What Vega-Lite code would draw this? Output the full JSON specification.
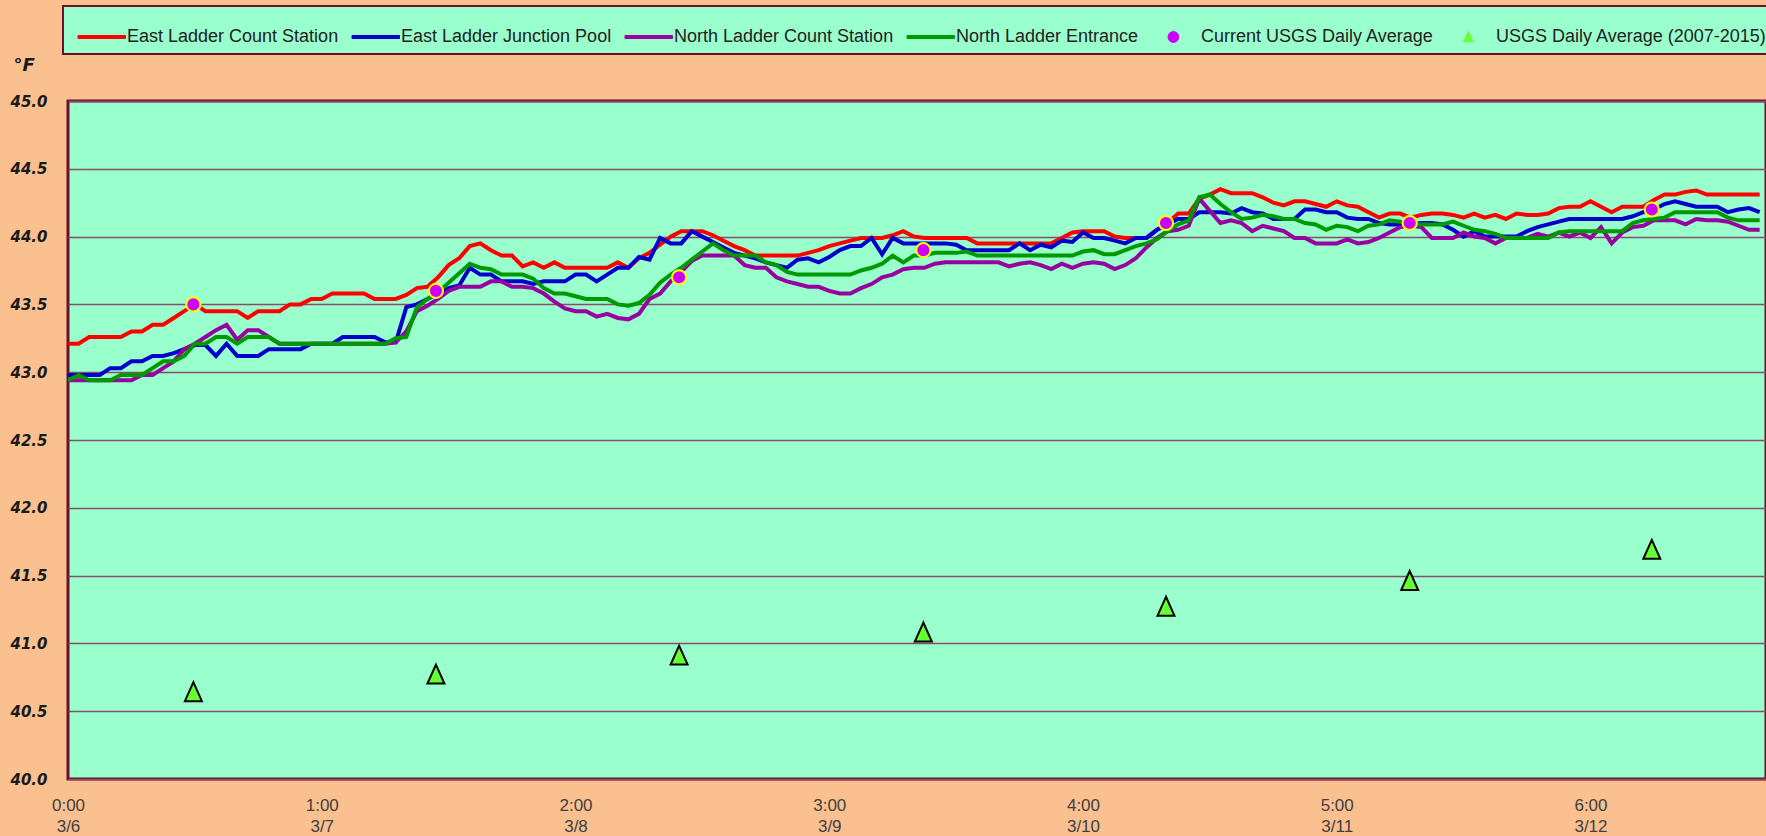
{
  "$schema": "https://vega.github.io/schema/vega-lite/v6.json",
  "width": 1698,
  "height": 678,
  "autosize": {"type": "none"},
  "padding": {"left": 68, "top": 101, "right": 0, "bottom": 57},
  "background": "#FAC090",
  "config": {
    "view": {"fill": "#99FFCC", "stroke": "#6B0F2A", "strokeWidth": 3},
    "font": "Liberation Sans",
    "axis": {"labelFlush": false, "labelOverlap": false}
  },
  "datasets": {
    "hourly": [
      {"h":0,"ECS":43.21,"EJP":42.98,"NCS":42.94,"NLE":42.94},
      {"h":1,"ECS":43.21,"EJP":42.98,"NCS":42.94,"NLE":42.98},
      {"h":2,"ECS":43.26,"EJP":42.98,"NCS":42.94,"NLE":42.94},
      {"h":3,"ECS":43.26,"EJP":42.98,"NCS":42.94,"NLE":42.94},
      {"h":4,"ECS":43.26,"EJP":43.03,"NCS":42.94,"NLE":42.94},
      {"h":5,"ECS":43.26,"EJP":43.03,"NCS":42.94,"NLE":42.98},
      {"h":6,"ECS":43.30,"EJP":43.08,"NCS":42.94,"NLE":42.98},
      {"h":7,"ECS":43.30,"EJP":43.08,"NCS":42.98,"NLE":42.98},
      {"h":8,"ECS":43.35,"EJP":43.12,"NCS":42.98,"NLE":43.03},
      {"h":9,"ECS":43.35,"EJP":43.12,"NCS":43.03,"NLE":43.08},
      {"h":10,"ECS":43.40,"EJP":43.14,"NCS":43.08,"NLE":43.08},
      {"h":11,"ECS":43.45,"EJP":43.17,"NCS":43.17,"NLE":43.12},
      {"h":12,"ECS":43.50,"EJP":43.20,"NCS":43.21,"NLE":43.21},
      {"h":13,"ECS":43.45,"EJP":43.20,"NCS":43.26,"NLE":43.21},
      {"h":14,"ECS":43.45,"EJP":43.12,"NCS":43.31,"NLE":43.26},
      {"h":15,"ECS":43.45,"EJP":43.21,"NCS":43.35,"NLE":43.26},
      {"h":16,"ECS":43.45,"EJP":43.12,"NCS":43.24,"NLE":43.21},
      {"h":17,"ECS":43.40,"EJP":43.12,"NCS":43.31,"NLE":43.26},
      {"h":18,"ECS":43.45,"EJP":43.12,"NCS":43.31,"NLE":43.26},
      {"h":19,"ECS":43.45,"EJP":43.17,"NCS":43.26,"NLE":43.26},
      {"h":20,"ECS":43.45,"EJP":43.17,"NCS":43.21,"NLE":43.21},
      {"h":21,"ECS":43.50,"EJP":43.17,"NCS":43.21,"NLE":43.21},
      {"h":22,"ECS":43.50,"EJP":43.17,"NCS":43.21,"NLE":43.21},
      {"h":23,"ECS":43.54,"EJP":43.21,"NCS":43.21,"NLE":43.21},
      {"h":24,"ECS":43.54,"EJP":43.21,"NCS":43.21,"NLE":43.21},
      {"h":25,"ECS":43.58,"EJP":43.21,"NCS":43.21,"NLE":43.21},
      {"h":26,"ECS":43.58,"EJP":43.26,"NCS":43.21,"NLE":43.21},
      {"h":27,"ECS":43.58,"EJP":43.26,"NCS":43.21,"NLE":43.21},
      {"h":28,"ECS":43.58,"EJP":43.26,"NCS":43.21,"NLE":43.21},
      {"h":29,"ECS":43.54,"EJP":43.26,"NCS":43.21,"NLE":43.21},
      {"h":30,"ECS":43.54,"EJP":43.22,"NCS":43.21,"NLE":43.21},
      {"h":31,"ECS":43.54,"EJP":43.22,"NCS":43.22,"NLE":43.25},
      {"h":32,"ECS":43.57,"EJP":43.48,"NCS":43.30,"NLE":43.26},
      {"h":33,"ECS":43.62,"EJP":43.50,"NCS":43.45,"NLE":43.48},
      {"h":34,"ECS":43.63,"EJP":43.54,"NCS":43.49,"NLE":43.54},
      {"h":35,"ECS":43.70,"EJP":43.58,"NCS":43.54,"NLE":43.59},
      {"h":36,"ECS":43.79,"EJP":43.62,"NCS":43.60,"NLE":43.66},
      {"h":37,"ECS":43.84,"EJP":43.64,"NCS":43.63,"NLE":43.73},
      {"h":38,"ECS":43.93,"EJP":43.77,"NCS":43.63,"NLE":43.80},
      {"h":39,"ECS":43.95,"EJP":43.72,"NCS":43.63,"NLE":43.77},
      {"h":40,"ECS":43.90,"EJP":43.72,"NCS":43.67,"NLE":43.76},
      {"h":41,"ECS":43.86,"EJP":43.67,"NCS":43.67,"NLE":43.72},
      {"h":42,"ECS":43.86,"EJP":43.67,"NCS":43.63,"NLE":43.72},
      {"h":43,"ECS":43.78,"EJP":43.67,"NCS":43.63,"NLE":43.72},
      {"h":44,"ECS":43.81,"EJP":43.65,"NCS":43.62,"NLE":43.69},
      {"h":45,"ECS":43.77,"EJP":43.67,"NCS":43.58,"NLE":43.62},
      {"h":46,"ECS":43.81,"EJP":43.67,"NCS":43.52,"NLE":43.58},
      {"h":47,"ECS":43.77,"EJP":43.67,"NCS":43.47,"NLE":43.58},
      {"h":48,"ECS":43.77,"EJP":43.72,"NCS":43.45,"NLE":43.56},
      {"h":49,"ECS":43.77,"EJP":43.72,"NCS":43.45,"NLE":43.54},
      {"h":50,"ECS":43.77,"EJP":43.67,"NCS":43.41,"NLE":43.54},
      {"h":51,"ECS":43.77,"EJP":43.72,"NCS":43.43,"NLE":43.54},
      {"h":52,"ECS":43.81,"EJP":43.77,"NCS":43.40,"NLE":43.50},
      {"h":53,"ECS":43.77,"EJP":43.77,"NCS":43.39,"NLE":43.49},
      {"h":54,"ECS":43.84,"EJP":43.85,"NCS":43.43,"NLE":43.51},
      {"h":55,"ECS":43.88,"EJP":43.83,"NCS":43.54,"NLE":43.57},
      {"h":56,"ECS":43.94,"EJP":43.99,"NCS":43.58,"NLE":43.66},
      {"h":57,"ECS":44.00,"EJP":43.95,"NCS":43.67,"NLE":43.72},
      {"h":58,"ECS":44.04,"EJP":43.95,"NCS":43.74,"NLE":43.77},
      {"h":59,"ECS":44.04,"EJP":44.04,"NCS":43.82,"NLE":43.83},
      {"h":60,"ECS":44.04,"EJP":44.00,"NCS":43.86,"NLE":43.89},
      {"h":61,"ECS":44.01,"EJP":43.96,"NCS":43.86,"NLE":43.95},
      {"h":62,"ECS":43.97,"EJP":43.92,"NCS":43.86,"NLE":43.90},
      {"h":63,"ECS":43.93,"EJP":43.88,"NCS":43.86,"NLE":43.86},
      {"h":64,"ECS":43.90,"EJP":43.86,"NCS":43.79,"NLE":43.86},
      {"h":65,"ECS":43.86,"EJP":43.84,"NCS":43.77,"NLE":43.86},
      {"h":66,"ECS":43.86,"EJP":43.81,"NCS":43.77,"NLE":43.81},
      {"h":67,"ECS":43.86,"EJP":43.79,"NCS":43.70,"NLE":43.79},
      {"h":68,"ECS":43.86,"EJP":43.77,"NCS":43.67,"NLE":43.74},
      {"h":69,"ECS":43.86,"EJP":43.83,"NCS":43.65,"NLE":43.72},
      {"h":70,"ECS":43.88,"EJP":43.84,"NCS":43.63,"NLE":43.72},
      {"h":71,"ECS":43.90,"EJP":43.81,"NCS":43.63,"NLE":43.72},
      {"h":72,"ECS":43.93,"EJP":43.85,"NCS":43.60,"NLE":43.72},
      {"h":73,"ECS":43.95,"EJP":43.90,"NCS":43.58,"NLE":43.72},
      {"h":74,"ECS":43.97,"EJP":43.93,"NCS":43.58,"NLE":43.72},
      {"h":75,"ECS":43.99,"EJP":43.93,"NCS":43.62,"NLE":43.75},
      {"h":76,"ECS":43.99,"EJP":43.99,"NCS":43.65,"NLE":43.77},
      {"h":77,"ECS":43.99,"EJP":43.87,"NCS":43.70,"NLE":43.80},
      {"h":78,"ECS":44.01,"EJP":43.99,"NCS":43.72,"NLE":43.86},
      {"h":79,"ECS":44.04,"EJP":43.95,"NCS":43.76,"NLE":43.81},
      {"h":80,"ECS":44.00,"EJP":43.95,"NCS":43.77,"NLE":43.86},
      {"h":81,"ECS":43.99,"EJP":43.95,"NCS":43.77,"NLE":43.86},
      {"h":82,"ECS":43.99,"EJP":43.95,"NCS":43.80,"NLE":43.88},
      {"h":83,"ECS":43.99,"EJP":43.95,"NCS":43.81,"NLE":43.88},
      {"h":84,"ECS":43.99,"EJP":43.94,"NCS":43.81,"NLE":43.88},
      {"h":85,"ECS":43.99,"EJP":43.90,"NCS":43.81,"NLE":43.89},
      {"h":86,"ECS":43.95,"EJP":43.90,"NCS":43.81,"NLE":43.86},
      {"h":87,"ECS":43.95,"EJP":43.90,"NCS":43.81,"NLE":43.86},
      {"h":88,"ECS":43.95,"EJP":43.90,"NCS":43.81,"NLE":43.86},
      {"h":89,"ECS":43.95,"EJP":43.90,"NCS":43.78,"NLE":43.86},
      {"h":90,"ECS":43.95,"EJP":43.95,"NCS":43.80,"NLE":43.86},
      {"h":91,"ECS":43.95,"EJP":43.90,"NCS":43.81,"NLE":43.86},
      {"h":92,"ECS":43.95,"EJP":43.94,"NCS":43.79,"NLE":43.86},
      {"h":93,"ECS":43.95,"EJP":43.92,"NCS":43.76,"NLE":43.86},
      {"h":94,"ECS":43.99,"EJP":43.97,"NCS":43.80,"NLE":43.86},
      {"h":95,"ECS":44.03,"EJP":43.96,"NCS":43.77,"NLE":43.86},
      {"h":96,"ECS":44.04,"EJP":44.03,"NCS":43.80,"NLE":43.89},
      {"h":97,"ECS":44.04,"EJP":43.99,"NCS":43.81,"NLE":43.90},
      {"h":98,"ECS":44.04,"EJP":43.99,"NCS":43.80,"NLE":43.87},
      {"h":99,"ECS":44.00,"EJP":43.97,"NCS":43.76,"NLE":43.87},
      {"h":100,"ECS":43.99,"EJP":43.95,"NCS":43.79,"NLE":43.90},
      {"h":101,"ECS":43.99,"EJP":43.99,"NCS":43.84,"NLE":43.93},
      {"h":102,"ECS":43.99,"EJP":43.99,"NCS":43.92,"NLE":43.95},
      {"h":103,"ECS":44.05,"EJP":44.05,"NCS":43.99,"NLE":43.98},
      {"h":104,"ECS":44.10,"EJP":44.09,"NCS":44.04,"NLE":44.04},
      {"h":105,"ECS":44.17,"EJP":44.13,"NCS":44.05,"NLE":44.09},
      {"h":106,"ECS":44.17,"EJP":44.13,"NCS":44.08,"NLE":44.12},
      {"h":107,"ECS":44.28,"EJP":44.18,"NCS":44.28,"NLE":44.29},
      {"h":108,"ECS":44.31,"EJP":44.18,"NCS":44.19,"NLE":44.31},
      {"h":109,"ECS":44.35,"EJP":44.18,"NCS":44.10,"NLE":44.24},
      {"h":110,"ECS":44.32,"EJP":44.17,"NCS":44.12,"NLE":44.18},
      {"h":111,"ECS":44.32,"EJP":44.21,"NCS":44.10,"NLE":44.13},
      {"h":112,"ECS":44.32,"EJP":44.18,"NCS":44.04,"NLE":44.14},
      {"h":113,"ECS":44.29,"EJP":44.17,"NCS":44.08,"NLE":44.16},
      {"h":114,"ECS":44.25,"EJP":44.13,"NCS":44.06,"NLE":44.15},
      {"h":115,"ECS":44.23,"EJP":44.13,"NCS":44.04,"NLE":44.13},
      {"h":116,"ECS":44.26,"EJP":44.13,"NCS":43.99,"NLE":44.13},
      {"h":117,"ECS":44.26,"EJP":44.20,"NCS":43.99,"NLE":44.10},
      {"h":118,"ECS":44.24,"EJP":44.20,"NCS":43.95,"NLE":44.09},
      {"h":119,"ECS":44.22,"EJP":44.18,"NCS":43.95,"NLE":44.05},
      {"h":120,"ECS":44.26,"EJP":44.18,"NCS":43.95,"NLE":44.08},
      {"h":121,"ECS":44.23,"EJP":44.14,"NCS":43.98,"NLE":44.07},
      {"h":122,"ECS":44.22,"EJP":44.13,"NCS":43.95,"NLE":44.04},
      {"h":123,"ECS":44.18,"EJP":44.13,"NCS":43.96,"NLE":44.08},
      {"h":124,"ECS":44.14,"EJP":44.10,"NCS":43.99,"NLE":44.09},
      {"h":125,"ECS":44.17,"EJP":44.09,"NCS":44.03,"NLE":44.12},
      {"h":126,"ECS":44.17,"EJP":44.09,"NCS":44.07,"NLE":44.11},
      {"h":127,"ECS":44.14,"EJP":44.09,"NCS":44.08,"NLE":44.09},
      {"h":128,"ECS":44.16,"EJP":44.10,"NCS":44.07,"NLE":44.09},
      {"h":129,"ECS":44.17,"EJP":44.10,"NCS":43.99,"NLE":44.09},
      {"h":130,"ECS":44.17,"EJP":44.09,"NCS":43.99,"NLE":44.09},
      {"h":131,"ECS":44.16,"EJP":44.05,"NCS":43.99,"NLE":44.11},
      {"h":132,"ECS":44.14,"EJP":44.00,"NCS":44.03,"NLE":44.08},
      {"h":133,"ECS":44.17,"EJP":44.04,"NCS":44.00,"NLE":44.05},
      {"h":134,"ECS":44.14,"EJP":44.00,"NCS":43.99,"NLE":44.04},
      {"h":135,"ECS":44.16,"EJP":44.00,"NCS":43.95,"NLE":44.02},
      {"h":136,"ECS":44.13,"EJP":44.00,"NCS":43.99,"NLE":43.99},
      {"h":137,"ECS":44.17,"EJP":44.00,"NCS":43.99,"NLE":43.99},
      {"h":138,"ECS":44.16,"EJP":44.04,"NCS":43.99,"NLE":43.99},
      {"h":139,"ECS":44.16,"EJP":44.07,"NCS":44.02,"NLE":43.99},
      {"h":140,"ECS":44.17,"EJP":44.09,"NCS":44.00,"NLE":43.99},
      {"h":141,"ECS":44.21,"EJP":44.11,"NCS":44.03,"NLE":44.03},
      {"h":142,"ECS":44.22,"EJP":44.13,"NCS":44.00,"NLE":44.04},
      {"h":143,"ECS":44.22,"EJP":44.13,"NCS":44.03,"NLE":44.04},
      {"h":144,"ECS":44.26,"EJP":44.13,"NCS":43.99,"NLE":44.04},
      {"h":145,"ECS":44.22,"EJP":44.13,"NCS":44.07,"NLE":44.04},
      {"h":146,"ECS":44.18,"EJP":44.13,"NCS":43.95,"NLE":44.04},
      {"h":147,"ECS":44.22,"EJP":44.13,"NCS":44.03,"NLE":44.04},
      {"h":148,"ECS":44.22,"EJP":44.15,"NCS":44.07,"NLE":44.10},
      {"h":149,"ECS":44.22,"EJP":44.18,"NCS":44.08,"NLE":44.12},
      {"h":150,"ECS":44.27,"EJP":44.20,"NCS":44.12,"NLE":44.13},
      {"h":151,"ECS":44.31,"EJP":44.24,"NCS":44.12,"NLE":44.14},
      {"h":152,"ECS":44.31,"EJP":44.26,"NCS":44.12,"NLE":44.18},
      {"h":153,"ECS":44.33,"EJP":44.24,"NCS":44.09,"NLE":44.18},
      {"h":154,"ECS":44.34,"EJP":44.22,"NCS":44.13,"NLE":44.18},
      {"h":155,"ECS":44.31,"EJP":44.22,"NCS":44.12,"NLE":44.18},
      {"h":156,"ECS":44.31,"EJP":44.22,"NCS":44.12,"NLE":44.18},
      {"h":157,"ECS":44.31,"EJP":44.18,"NCS":44.11,"NLE":44.14},
      {"h":158,"ECS":44.31,"EJP":44.20,"NCS":44.08,"NLE":44.12},
      {"h":159,"ECS":44.31,"EJP":44.21,"NCS":44.05,"NLE":44.12},
      {"h":160,"ECS":44.31,"EJP":44.18,"NCS":44.05,"NLE":44.12}
    ],
    "current": [
      {"h":11.86,"v":43.50},{"h":34.8,"v":43.60},{"h":57.8,"v":43.70},{"h":80.9,"v":43.90},
      {"h":103.85,"v":44.10},{"h":126.9,"v":44.10},{"h":149.8,"v":44.20}
    ],
    "historic": [
      {"h":11.86,"v":40.64},{"h":34.8,"v":40.77},{"h":57.8,"v":40.91},{"h":80.9,"v":41.08},
      {"h":103.85,"v":41.27},{"h":126.9,"v":41.46},{"h":149.8,"v":41.69}
    ]
  },
  "encoding": {
    "x": {
      "field": "h", "type": "quantitative",
      "scale": {"domain": [0, 160.6], "nice": false, "zero": false},
      "axis": {
        "values": [0, 24, 48, 72, 96, 120, 144],
        "labelExpr": "[floor(datum.value/24) + ':00', '3/' + (6 + floor(datum.value/24))]",
        "ticks": false, "domain": false, "grid": false, "title": null,
        "labelFont": "Liberation Sans", "labelFontSize": 17, "labelColor": "#404040",
        "labelPadding": 18, "labelLineHeight": 21, "labelBaseline": "top", "labelAlign": "center"
      }
    }
  },
  "layer": [
    {
      "data": {"name": "hourly"},
      "transform": [{"fold": ["ECS", "EJP", "NCS", "NLE"], "as": ["series", "temp"]}],
      "mark": {"type": "line", "strokeWidth": 4, "clip": true},
      "encoding": {
        "y": {
          "field": "temp", "type": "quantitative",
          "scale": {"domain": [40, 45], "nice": false, "zero": false},
          "axis": {
            "values": [40, 40.5, 41, 41.5, 42, 42.5, 43, 43.5, 44, 44.5, 45],
            "format": ".1f", "ticks": false, "domain": false,
            "grid": true, "gridColor": "#8C4A6A", "gridWidth": 1.5,
            "labelFont": "DejaVu Sans", "labelFontSize": 15, "labelFontWeight": "bold",
            "labelFontStyle": "italic", "labelColor": "#1a1a1a", "labelPadding": 21,
            "title": "°F", "titleAngle": 0, "titleX": -55, "titleY": -31,
            "titleAlign": "left", "titleBaseline": "alphabetic",
            "titleFont": "DejaVu Sans", "titleFontSize": 18, "titleFontStyle": "italic",
            "titleFontWeight": "bold", "titleColor": "#1a1a1a"
          }
        },
        "color": {
          "field": "series", "type": "nominal",
          "scale": {
            "domain": ["ECS", "EJP", "NCS", "NLE", "CUR", "HIS"],
            "range": ["#FF0000", "#0000CC", "#9900A0", "#009900", "#CC00FF", "#66FF33"]
          },
          "legend": {
            "orient": "none", "legendX": -5, "legendY": -95,
            "direction": "horizontal", "columns": 6, "title": null,
            "symbolSize": 2025, "symbolStrokeWidth": 1,
            "labelFont": "Liberation Sans", "labelFontSize": 18, "labelColor": "#222222",
            "labelLimit": 400, "labelOffset": 10, "columnPadding": 6, "padding": 8,
            "fillColor": "#99FFCC", "strokeColor": "#6B0F2A",
            "labelExpr": "datum.value === 'ECS' ? 'East Ladder Count Station' : datum.value === 'EJP' ? 'East Ladder Junction Pool' : datum.value === 'NCS' ? 'North Ladder Count Station' : datum.value === 'NLE' ? 'North Ladder Entrance' : datum.value === 'CUR' ? 'Current USGS Daily Average' : 'USGS Daily Average (2007-2015)'",
            "encode": {
              "legend": {"update": {"strokeWidth": {"value": 2}, "stroke": {"value": "#6B0F2A"}}},
              "symbols": {
                "update": {
                  "shape": {"signal": "datum.value === 'CUR' ? 'M0,0A0.24,0.24,0,1,1,0.48,0A0.24,0.24,0,1,1,0,0Z' : datum.value === 'HIS' ? 'M0.24,-0.27L0.03,0.21L0.45,0.21Z' : 'M-0.71,-0.067L1.4,-0.067L1.4,0.067L-0.71,0.067Z'"},
                  "fill": {"signal": "datum.value === 'CUR' ? '#CC00FF' : datum.value === 'HIS' ? '#66FF33' : scale('color', datum.value)"},
                  "stroke": {"signal": "datum.value === 'CUR' ? '#FFFF00' : datum.value === 'HIS' ? '#000000' : scale('color', datum.value)"},
                  "opacity": {"value": 1},
                  "fillOpacity": {"value": 1},
                  "strokeOpacity": {"value": 1}
                }
              }
            }
          }
        }
      }
    },
    {
      "data": {"name": "current"},
      "mark": {"type": "point", "filled": true, "shape": "circle", "size": 200, "stroke": "#FFFF00", "strokeWidth": 2, "opacity": 1},
      "encoding": {
        "y": {"field": "v", "type": "quantitative"},
        "color": {"datum": "CUR"}
      }
    },
    {
      "data": {"name": "historic"},
      "mark": {"type": "point", "filled": true, "shape": "M0,-1L-0.85,0.9L0.85,0.9Z", "size": 400, "stroke": "#000000", "strokeWidth": 2, "opacity": 1},
      "encoding": {
        "y": {"field": "v", "type": "quantitative"},
        "color": {"datum": "HIS"}
      }
    }
  ]
}
